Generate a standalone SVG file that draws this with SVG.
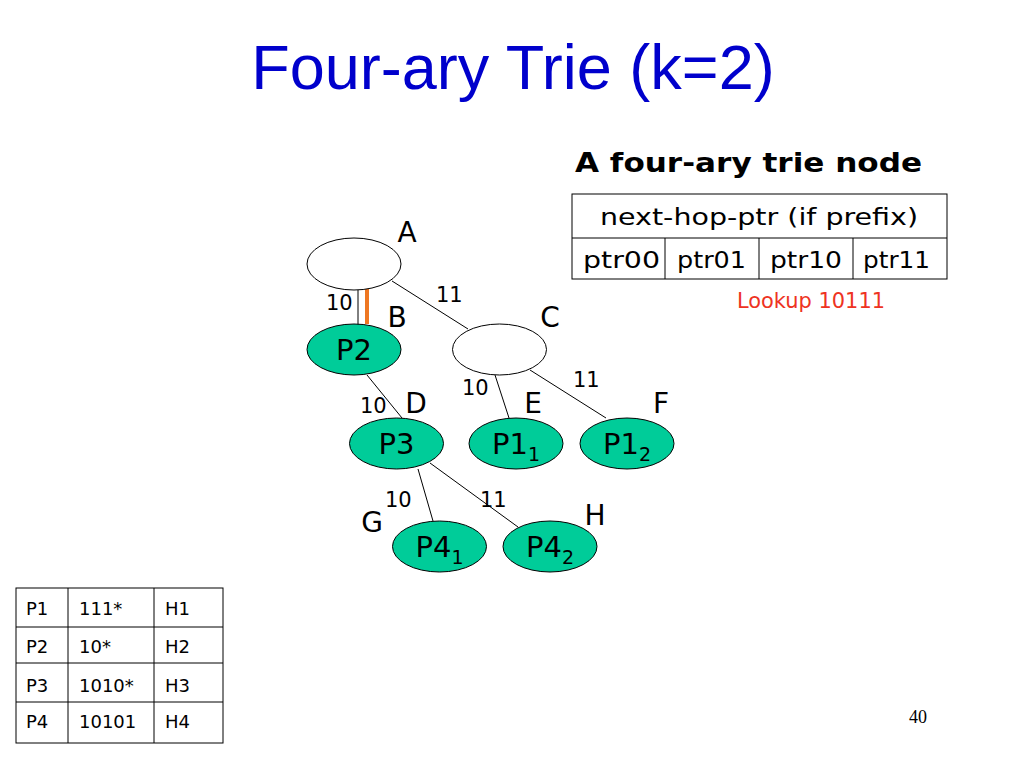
<svg xmlns="http://www.w3.org/2000/svg" width="1024" height="768" viewBox="0 0 1024 768">
<style>
.t{font-family:"DejaVu Sans","Noto Sans",sans-serif;fill:#000}
.lbl{font-size:28px}
.pl{font-size:29px}
.edge{font-size:21px}
.nd{fill:#00CC99;stroke:#000;stroke-width:1}
.em{fill:#fff;stroke:#000;stroke-width:1}
.cell{font-size:23px}
.tb{font-size:18px}
line.c{stroke:#000;stroke-width:1}
</style>
<rect width="1024" height="768" fill="#fff"/>
<text x="513" y="89" font-family="'Liberation Sans',Arial,sans-serif" font-size="63" fill="#0000CC" text-anchor="middle">Four-ary Trie (k=2)</text>

<g id="connectors">
<line class="c" x1="358" y1="290" x2="358" y2="325"/>
<line x1="367" y1="289" x2="367" y2="324" stroke="#EE7722" stroke-width="4"/>
<line class="c" x1="392" y1="281" x2="468" y2="329"/>
<line class="c" x1="367" y1="375" x2="402" y2="418"/>
<line class="c" x1="495" y1="375" x2="509" y2="418"/>
<line class="c" x1="530" y1="370" x2="606" y2="418"/>
<line class="c" x1="418" y1="469" x2="433" y2="521"/>
<line class="c" x1="430" y1="463" x2="518" y2="527"/>
<text class="t edge" x="326" y="310">10</text>
<text class="t edge" x="436" y="302">11</text>
<text class="t edge" x="360" y="413">10</text>
<text class="t edge" x="462" y="395">10</text>
<text class="t edge" x="573" y="387">11</text>
<text class="t edge" x="385" y="507">10</text>
<text class="t edge" x="480" y="507">11</text>
</g>

<g id="nodeA">
<ellipse class="em" cx="354" cy="264" rx="47" ry="26"/>
<text class="t lbl" x="407" y="242" text-anchor="middle">A</text>
</g>
<g id="nodeB">
<ellipse class="nd" cx="354" cy="349.5" rx="47" ry="25.5"/>
<text class="t pl" x="354" y="360" text-anchor="middle">P2</text>
<text class="t lbl" x="397" y="327" text-anchor="middle">B</text>
</g>
<g id="nodeC">
<ellipse class="em" cx="499.5" cy="349.5" rx="47" ry="25.5"/>
<text class="t lbl" x="550" y="327" text-anchor="middle">C</text>
</g>
<g id="nodeD">
<ellipse class="nd" cx="396.5" cy="443.5" rx="47" ry="25.5"/>
<text class="t pl" x="396.5" y="454" text-anchor="middle">P3</text>
<text class="t lbl" x="416" y="413" text-anchor="middle">D</text>
</g>
<g id="nodeE">
<ellipse class="nd" cx="516" cy="443.5" rx="47" ry="25.5"/>
<text class="t pl" x="516" y="454" text-anchor="middle">P1<tspan font-size="19" dy="7">1</tspan></text>
<text class="t lbl" x="533" y="413" text-anchor="middle">E</text>
</g>
<g id="nodeF">
<ellipse class="nd" cx="627" cy="443.5" rx="47" ry="25.5"/>
<text class="t pl" x="627" y="454" text-anchor="middle">P1<tspan font-size="19" dy="7">2</tspan></text>
<text class="t lbl" x="661" y="413" text-anchor="middle">F</text>
</g>
<g id="nodeG">
<ellipse class="nd" cx="439.5" cy="546.5" rx="47" ry="25.5"/>
<text class="t pl" x="439.5" y="557" text-anchor="middle">P4<tspan font-size="19" dy="7">1</tspan></text>
<text class="t lbl" x="372" y="532" text-anchor="middle">G</text>
</g>
<g id="nodeH">
<ellipse class="nd" cx="550" cy="546.5" rx="47" ry="25.5"/>
<text class="t pl" x="550" y="557" text-anchor="middle">P4<tspan font-size="19" dy="7">2</tspan></text>
<text class="t lbl" x="595" y="525" text-anchor="middle">H</text>
</g>

<g id="trie-node-layout">
<text class="t" x="575" y="172" font-size="26" font-weight="bold" textLength="347" lengthAdjust="spacingAndGlyphs">A four-ary trie node</text>
<rect x="572" y="194" width="375" height="85" fill="#fff" stroke="#000" stroke-width="1"/>
<line class="c" x1="572" y1="238" x2="947" y2="238"/>
<line class="c" x1="665" y1="238" x2="665" y2="279"/>
<line class="c" x1="759" y1="238" x2="759" y2="279"/>
<line class="c" x1="853" y1="238" x2="853" y2="279"/>
<text class="t cell" x="600" y="225" textLength="318" lengthAdjust="spacingAndGlyphs">next-hop-ptr (if prefix)</text>
<text class="t cell" x="583" y="268" textLength="77" lengthAdjust="spacingAndGlyphs">ptr00</text>
<text class="t cell" x="677" y="268" textLength="69" lengthAdjust="spacingAndGlyphs">ptr01</text>
<text class="t cell" x="770" y="268" textLength="72" lengthAdjust="spacingAndGlyphs">ptr10</text>
<text class="t cell" x="863" y="268" textLength="67" lengthAdjust="spacingAndGlyphs">ptr11</text>
<text x="737" y="308" font-family="'DejaVu Sans','Noto Sans',sans-serif" font-size="21" fill="#EE3322" textLength="148" lengthAdjust="spacingAndGlyphs">Lookup 10111</text>
</g>

<g id="prefix-table">
<rect x="16" y="588" width="207" height="155" fill="#fff" stroke="#000" stroke-width="1"/>
<line class="c" x1="16" y1="627" x2="223" y2="627"/>
<line class="c" x1="16" y1="663" x2="223" y2="663"/>
<line class="c" x1="16" y1="702" x2="223" y2="702"/>
<line class="c" x1="68" y1="588" x2="68" y2="743"/>
<line class="c" x1="154" y1="588" x2="154" y2="743"/>
<text class="t tb" x="26" y="615">P1</text><text class="t tb" x="79" y="615">111*</text><text class="t tb" x="165" y="615">H1</text>
<text class="t tb" x="26" y="653">P2</text><text class="t tb" x="79" y="653">10*</text><text class="t tb" x="165" y="653">H2</text>
<text class="t tb" x="26" y="692">P3</text><text class="t tb" x="79" y="692">1010*</text><text class="t tb" x="165" y="692">H3</text>
<text class="t tb" x="26" y="728">P4</text><text class="t tb" x="79" y="728">10101</text><text class="t tb" x="165" y="728">H4</text>
</g>

<text x="918" y="723" font-family="'Liberation Serif','Times New Roman',serif" font-size="18" fill="#000" text-anchor="middle">40</text>
</svg>
